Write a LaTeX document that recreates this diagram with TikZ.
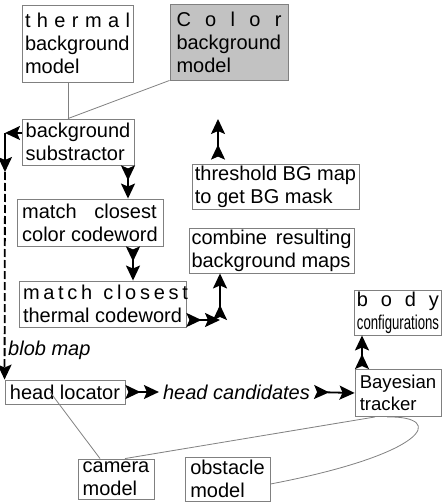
\documentclass[tikz,border=0pt]{standalone}
\usepackage{fontspec}
\setmainfont{Liberation Sans}
\usepackage{graphicx}
\usetikzlibrary{arrows.meta}
\definecolor{edge}{gray}{0.5}
\definecolor{shade}{gray}{0.76}
% one line stretched to a given width
\newcommand\spreadline[2]{\makebox[#1][s]{#2}}

\begin{document}
\begin{tikzpicture}[x=1pt,y=-1pt,
  box/.style={draw=edge, line width=0.9pt, inner xsep=2pt, inner ysep=0pt,
    align=left, font=\fontsize{20}{23}\selectfont, anchor=center},
  label/.style={font=\fontsize{20}{23}\selectfont\itshape, inner sep=0pt},
  link/.style={draw=edge, line width=0.8pt},
  flow/.style={draw=black, line width=1.8pt,
    {Stealth[length=15pt,width=14pt,inset=3pt,reversed]}-{Stealth[length=15pt,width=14pt,inset=3pt]}},
  single/.style={draw=black, line width=1.8pt, -{Stealth[length=15pt,width=14pt,inset=3pt]}},
]
\useasboundingbox (0,0) rectangle (444,502);

% model boxes
\node[box, minimum width=111pt, minimum height=77pt] (th) at (77.5,43.5)
  {\spreadline{105pt}{t h e r m a l}\\background\\model};
\node[box, fill=shade, minimum width=118pt, minimum height=76pt] (co) at (229,42)
  {\spreadline{105pt}{C o l o r}\\background\\model};

% processing chain
\node[box, minimum width=112pt, minimum height=46pt] (sub) at (78,142)
  {background\\substractor};
\node[box, minimum width=146pt, minimum height=47pt] (ccw) at (90,222.5)
  {\spreadline{134.5pt}{match closest}\\color codeword};
\node[box, minimum width=167pt, minimum height=46pt] (tcw) at (102.5,304)
  {\spreadline{159pt}{m a t c h \ \ c l o s e s t}\\thermal codeword};
\node[box, minimum width=167pt, minimum height=45pt] (thr) at (275.5,186.5)
  {threshold BG map\\to get BG mask};
\node[box, minimum width=165pt, minimum height=45pt] (cmb) at (271.5,250.5)
  {\spreadline{160pt}{combine resulting}\\background maps};

% tracking stage
\node[box, minimum width=120pt, minimum height=24pt] (hl) at (65,392)
  {head locator};
\node[box, font=\fontsize{18.6}{22}\selectfont, minimum width=86pt, minimum height=47pt] (bay) at (398,393)
  {Bayesian\\tracker};
\node[box, minimum width=86pt, minimum height=45pt] (body) at (398,312.5)
  {\spreadline{82pt}{b o d y}\\\scalebox{0.66}[1]{configurations}};
\node[box, minimum width=76pt, minimum height=40pt] (cam) at (116,479)
  {camera\\model};
\node[box, minimum width=85pt, minimum height=44pt] (obs) at (227.5,479)
  {obstacle\\model};

% italic labels
\node[label, inner xsep=4pt] (cand) at (236.5,392) {head candidates};
\node[label, anchor=west] (blob) at (8,350) {blob map};

% helper points of the bent connectors
\coordinate (bend) at (220,320);
\coordinate (thrtop) at (218,119);
\coordinate (dtop) at (5,133);
\coordinate (dmid) at (5,172);
\coordinate (upline) at (362,0);

% thin model links
\draw[link] ([xshift=-9.5pt]th.south) -- ([xshift=-10pt]sub.north);
\draw[link] (co.south west) -- ([xshift=-10pt]sub.north);
\draw[link] ([xshift=-15pt]hl.center) -- ([xshift=-16pt]cam.north);
\draw[link] ([xshift=-23pt]bay.south) -- ([xshift=9pt]cam.north);
\draw[link] ([xshift=-11pt]bay.south) .. controls (447,416) and (428,454) .. ([yshift=-5pt]obs.east);

% data flow
\draw[flow] ([xshift=50pt]sub.south) -- ([xshift=38pt]ccw.north);
\draw[flow] ([xshift=43pt]ccw.south) -- ([xshift=30.5pt]tcw.north);
\draw[flow] ([yshift=-16pt]tcw.east) -- (bend);
\draw[flow] (bend) -- (cmb.south -| bend);
\draw[flow] ([yshift=4pt]thr.north -| thrtop) -- (thrtop);
\draw[flow] (hl.east) -- (cand.west);
\draw[flow] (cand.east) -- (bay.west);
\draw[flow] (bay.north -| upline) -- (body.south -| upline);

% blob map path
\draw[single] ([yshift=9pt]sub.west) -- (dtop);
\draw[single] (dtop) -- (dmid);
\draw[single, dash pattern=on 8pt off 3pt] (dmid) -- (hl.north west);
\end{tikzpicture}
\end{document}
